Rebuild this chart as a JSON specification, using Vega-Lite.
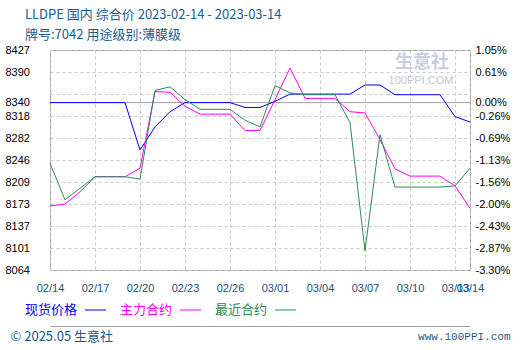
{
  "$schema": "https://vega.github.io/schema/vega-lite/v6.json",
  "width": 420,
  "height": 220,
  "autosize": {"type": "none"},
  "padding": {"left": 50, "top": 50, "right": 50, "bottom": 80},
  "background": "white",
  "title": {
    "text": ["LLDPE 国内 综合价 2023-02-14 - 2023-03-14", "牌号:7042 用途级别:薄膜级"],
    "anchor": "start",
    "frame": "group",
    "dx": -25,
    "offset": 2,
    "fontSize": 13,
    "font": "Noto Sans CJK SC",
    "fontWeight": "normal",
    "color": "#1c5d8c",
    "lineHeight": 20
  },
  "config": {
    "view": {"stroke": "#a0a0a0", "strokeWidth": 1},
    "axis": {"labelFont": "Liberation Sans", "labelFontSize": 11, "ticks": false, "tickSize": 0, "domain": false, "titleFontWeight": "normal", "labelOverlap": false},
    "legend": {
      "orient": "none",
      "legendX": -25,
      "legendY": 249,
      "direction": "horizontal",
      "columns": 3,
      "padding": 0,
      "symbolType": "stroke",
      "symbolSize": 441,
      "symbolStrokeWidth": 1,
      "symbolOffset": 59.5,
      "labelOffset": -81.5,
      "columnPadding": 12,
      "labelFont": "Noto Sans CJK SC",
      "labelFontSize": 13,
      "labelLimit": 0
    }
  },
  "resolve": {"scale": {"y": "independent", "x": "independent"}},
  "layer": [
    {
      "data": {"values": [{}]},
      "mark": {"type": "rule", "color": "#a0a0a0", "strokeWidth": 1},
      "encoding": {
        "y": {
          "datum": 8340,
          "type": "quantitative",
          "scale": {"domain": [8064.45, 8426.6], "nice": false, "zero": false},
          "axis": {
            "orient": "right",
            "title": null,
            "grid": false,
            "labelAlign": "left",
            "labelPadding": 5,
            "labelOverlap": false,
            "values": [8064.45, 8100.665, 8136.88, 8173.095, 8209.31, 8245.525, 8281.74, 8317.955, 8340, 8354.17, 8390.385, 8426.6],
            "labelExpr": "datum.value < 8070 ? '-3.30%' : datum.value < 8110 ? '-2.87%' : datum.value < 8150 ? '-2.43%' : datum.value < 8190 ? '-2.00%' : datum.value < 8220 ? '-1.56%' : datum.value < 8260 ? '-1.13%' : datum.value < 8300 ? '-0.69%' : datum.value < 8330 ? '-0.26%' : datum.value < 8345 ? '0.00%' : datum.value < 8360 ? '' : datum.value < 8400 ? '0.61%' : '1.05%'",
            "encode": {"labels": {"update": {"fill": {"signal": "datum.value > 8345 ? '#ff3333' : datum.value == 8340 ? '#999999' : '#33aa33'"}}}}
          }
        }
      }
    },
    {
      "data": {"values": [{}]},
      "mark": {"type": "text", "text": "生意社", "font": "Noto Sans CJK SC", "fontSize": 18, "fontWeight": "bold", "color": "#c9cde0", "dx": -3},
      "encoding": {
        "x": {
          "datum": {"year": 2023, "month": 3, "date": 11, "utc": true},
          "type": "temporal",
          "scale": {"type": "utc", "domain": [{"year": 2023, "month": 2, "date": 14, "utc": true}, {"year": 2023, "month": 3, "date": 14, "utc": true}]},
          "axis": null
        },
        "y": {"datum": 8405, "type": "quantitative", "scale": {"domain": [8064.45, 8426.6], "nice": false, "zero": false}, "axis": null}
      }
    },
    {
      "data": {"values": [{}]},
      "mark": {"type": "text", "text": "100PPI.COM", "font": "Liberation Sans", "fontSize": 11, "color": "#c8c8c8", "dx": -4},
      "encoding": {
        "x": {
          "datum": {"year": 2023, "month": 3, "date": 11, "utc": true},
          "type": "temporal",
          "scale": {"type": "utc", "domain": [{"year": 2023, "month": 2, "date": 14, "utc": true}, {"year": 2023, "month": 3, "date": 14, "utc": true}]},
          "axis": {"orient": "bottom", "offset": 56, "domain": true, "domainColor": "#a0a0a0", "domainWidth": 1, "labels": false, "grid": false, "ticks": false, "title": null}
        },
        "y": {"datum": 8375, "type": "quantitative", "scale": {"domain": [8064.45, 8426.6], "nice": false, "zero": false}, "axis": null}
      }
    },
    {
      "data": {
        "values": [
          {"date": "2023-02-14", "现货价格": 8340, "主力合约": 8170, "最近合约": 8240},
          {"date": "2023-02-15", "现货价格": 8340, "主力合约": 8173, "最近合约": 8180},
          {"date": "2023-02-16", "现货价格": 8340, "主力合约": 8193, "最近合约": 8199},
          {"date": "2023-02-17", "现货价格": 8340, "主力合约": 8218, "最近合约": 8218},
          {"date": "2023-02-18", "现货价格": 8340, "主力合约": 8218, "最近合约": 8218},
          {"date": "2023-02-19", "现货价格": 8340, "主力合约": 8218, "最近合约": 8218},
          {"date": "2023-02-20", "现货价格": 8262, "主力合约": 8232, "最近合约": 8214},
          {"date": "2023-02-21", "现货价格": 8300, "主力合约": 8358, "最近合约": 8360},
          {"date": "2023-02-22", "现货价格": 8325, "主力合约": 8357, "最近合约": 8366},
          {"date": "2023-02-23", "现货价格": 8340, "主力合约": 8334, "最近合约": 8345},
          {"date": "2023-02-24", "现货价格": 8340, "主力合约": 8321, "最近合约": 8329},
          {"date": "2023-02-25", "现货价格": 8340, "主力合约": 8321, "最近合约": 8329},
          {"date": "2023-02-26", "现货价格": 8340, "主力合约": 8321, "最近合约": 8329},
          {"date": "2023-02-27", "现货价格": 8332, "主力合约": 8294, "最近合约": 8311},
          {"date": "2023-02-28", "现货价格": 8332, "主力合约": 8294, "最近合约": 8300},
          {"date": "2023-03-01", "现货价格": 8342, "主力合约": 8345, "最近合约": 8368},
          {"date": "2023-03-02", "现货价格": 8354, "主力合约": 8397, "最近合约": 8356},
          {"date": "2023-03-03", "现货价格": 8354, "主力合约": 8347, "最近合约": 8353},
          {"date": "2023-03-04", "现货价格": 8354, "主力合约": 8347, "最近合约": 8353},
          {"date": "2023-03-05", "现货价格": 8354, "主力合约": 8347, "最近合约": 8353},
          {"date": "2023-03-06", "现货价格": 8354, "主力合约": 8325, "最近合约": 8307},
          {"date": "2023-03-07", "现货价格": 8369, "主力合约": 8323, "最近合约": 8096},
          {"date": "2023-03-08", "现货价格": 8369, "主力合约": 8279, "最近合约": 8287},
          {"date": "2023-03-09", "现货价格": 8353, "主力合约": 8231, "最近合约": 8201},
          {"date": "2023-03-10", "现货价格": 8353, "主力合约": 8219, "最近合约": 8201},
          {"date": "2023-03-11", "现货价格": 8353, "主力合约": 8219, "最近合约": 8201},
          {"date": "2023-03-12", "现货价格": 8353, "主力合约": 8219, "最近合约": 8201},
          {"date": "2023-03-13", "现货价格": 8317, "主力合约": 8203, "最近合约": 8203},
          {"date": "2023-03-14", "现货价格": 8308, "主力合约": 8166, "最近合约": 8232}
        ]
      },
      "transform": [{"fold": ["现货价格", "主力合约", "最近合约"], "as": ["series", "price"]}],
      "mark": {"type": "line", "strokeWidth": 1, "interpolate": "linear"},
      "encoding": {
        "x": {
          "field": "date",
          "type": "temporal",
          "scale": {"type": "utc", "domain": [{"year": 2023, "month": 2, "date": 14, "utc": true}, {"year": 2023, "month": 3, "date": 14, "utc": true}]},
          "axis": {
            "orient": "bottom",
            "values": [
              {"year": 2023, "month": 2, "date": 14, "utc": true},
              {"year": 2023, "month": 2, "date": 17, "utc": true},
              {"year": 2023, "month": 2, "date": 20, "utc": true},
              {"year": 2023, "month": 2, "date": 23, "utc": true},
              {"year": 2023, "month": 2, "date": 26, "utc": true},
              {"year": 2023, "month": 3, "date": 1, "utc": true},
              {"year": 2023, "month": 3, "date": 4, "utc": true},
              {"year": 2023, "month": 3, "date": 7, "utc": true},
              {"year": 2023, "month": 3, "date": 10, "utc": true},
              {"year": 2023, "month": 3, "date": 13, "utc": true},
              {"year": 2023, "month": 3, "date": 14, "utc": true}
            ],
            "format": "%m/%d",
            "labelColor": "#1c4f7c",
            "labelPadding": 12,
            "labelOverlap": false,
            "labelFlush": false,
            "labelBound": false,
            "grid": true,
            "gridColor": "#c8c8c8",
            "gridDash": [3, 3],
            "title": "© 2025.05 生意社",
            "titleX": -40,
            "titleY": 66,
            "titleAlign": "left",
            "titleAnchor": "start",
            "titleBaseline": "middle",
            "titleAngle": 0,
            "titleFont": "Noto Sans CJK SC",
            "titleFontSize": 13,
            "titleColor": "#1f5a85"
          }
        },
        "y": {
          "field": "price",
          "type": "quantitative",
          "scale": {"domain": [8064.45, 8426.6], "nice": false, "zero": false},
          "axis": {
            "orient": "left",
            "values": [8064.45, 8100.665, 8136.88, 8173.095, 8209.31, 8245.525, 8281.74, 8317.955, 8340, 8354.17, 8390.385, 8426.6],
            "labelExpr": "datum.value > 8350 && datum.value < 8360 ? '' : format(datum.value, '.0f')",
            "labelAlign": "left",
            "labelPadding": 45,
            "labelOverlap": false,
            "grid": true,
            "gridColor": "#c8c8c8",
            "gridDash": [3, 3],
            "gridOpacity": {"condition": {"test": "datum.value == 8340", "value": 0}, "value": 1},
            "encode": {"labels": {"update": {"fill": {"signal": "datum.value > 8345 ? '#ff3333' : datum.value == 8340 ? '#999999' : '#33aa33'"}}}},
            "title": "www.100PPI.com",
            "titleAngle": 0,
            "titleX": 460,
            "titleY": 286,
            "titleAlign": "right",
            "titleBaseline": "middle",
            "titleFont": "Liberation Mono",
            "titleFontSize": 11,
            "titleColor": "#1f5a85"
          }
        },
        "color": {
          "field": "series",
          "type": "nominal",
          "scale": {"domain": ["现货价格", "主力合约", "最近合约"], "range": ["#0000ff", "#ff00ff", "#2e8b57"]},
          "legend": {
            "title": null,
            "encode": {
              "labels": {"update": {"fill": {"signal": "scale('color', datum.value)"}}},
              "symbols": {"update": {"stroke": {"signal": "scale('color', datum.value)"}, "strokeWidth": {"value": 1}, "opacity": {"value": 1}}}
            }
          }
        }
      }
    }
  ]
}
